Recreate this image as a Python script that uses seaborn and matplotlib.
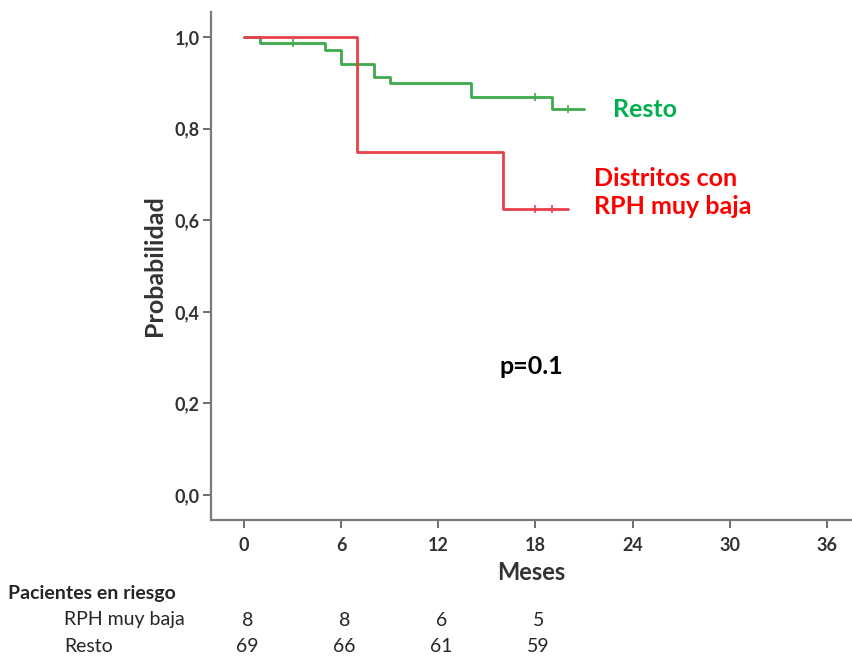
import matplotlib
matplotlib.use("Agg")
import matplotlib.pyplot as plt
import seaborn as sns
import pandas as pd
import numpy as np

# ---- data ----
resto_times = [0, 1, 5, 6, 8, 9, 14, 19, 21]
resto_surv = [1.0, 0.986, 0.971, 0.942, 0.913, 0.899, 0.870, 0.842, 0.842]
resto_cens_t = [3, 18, 20]
resto_cens_s = [0.986, 0.870, 0.842]

rph_times = [0, 7, 16, 20]
rph_surv = [1.0, 0.75, 0.625, 0.625]
rph_cens_t = [18, 19]
rph_cens_s = [0.625, 0.625]

x_ticks = [0, 6, 12, 18, 24, 30, 36]
y_ticks = [0.0, 0.2, 0.4, 0.6, 0.8, 1.0]
y_tick_labels = ["0,0", "0,2", "0,4", "0,6", "0,8", "1,0"]

risk_times = [0, 6, 12, 18]
risk_rph = [8, 8, 6, 5]
risk_resto = [69, 66, 61, 59]

GREEN_LINE = "#3DAA4C"
RED_LINE = "#E8404A"
GREEN_TXT = "#00B050"
RED_TXT = "#FF0000"

sns.set_theme(style="white")
plt.rcParams["font.family"] = ["Lato", "DejaVu Sans"]

fig = plt.figure(figsize=(8.52, 6.59), dpi=100)
ax = fig.add_axes([211/852, 139/659, 1 - 211/852, (520-12)/659])

df_resto = pd.DataFrame({"t": resto_times, "s": resto_surv})
df_rph = pd.DataFrame({"t": rph_times, "s": rph_surv})

sns.lineplot(data=df_resto, x="t", y="s", drawstyle="steps-post", color=GREEN_LINE,
             linewidth=2, ax=ax, estimator=None, sort=False)
sns.lineplot(data=df_rph, x="t", y="s", drawstyle="steps-post", color=RED_LINE,
             linewidth=2, ax=ax, estimator=None, sort=False)
sns.scatterplot(x=resto_cens_t, y=resto_cens_s, marker="|", s=40, color=GREEN_LINE,
                linewidth=1.2, ax=ax)
sns.scatterplot(x=rph_cens_t, y=rph_cens_s, marker="|", s=40, color=RED_LINE,
                linewidth=1.2, ax=ax)

ax.set_xlim(-2.04, 37.55)
ax.set_ylim(-0.0546, 1.0546)
for sp in ["top", "right"]:
    ax.spines[sp].set_visible(False)
for sp in ["left", "bottom"]:
    ax.spines[sp].set_color("#7a7a7a")
    ax.spines[sp].set_linewidth(1.6)

ann = ["Lato", "DejaVu Sans"]
tick_font = dict(family=ann, weight="bold", size=13)
ax.set_xticks(x_ticks)
ax.set_xticklabels([str(v) for v in x_ticks], fontdict=tick_font, color="#333333")
ax.set_yticks(y_ticks)
ax.set_yticklabels(y_tick_labels, fontdict=tick_font, color="#333333")
ax.tick_params(axis="both", direction="out", length=6, width=1.2, color="#555555",
               bottom=True, left=True, pad=2)
ax.tick_params(axis="x", pad=6)

ax.set_xlabel("Meses", fontdict=dict(family=ann, weight="bold", size=17),
              color="#333333", labelpad=5)
ax.set_ylabel("Probabilidad", fontdict=dict(family=ann, weight="bold", size=18),
              color="#333333", labelpad=6)

ax.text(22.8, 0.842, "Resto", color=GREEN_TXT, fontsize=18, fontweight="bold",
        family=ann, va="center", ha="left")
ax.text(21.6, 0.66, "Distritos con\nRPH muy baja", color=RED_TXT, fontsize=18,
        fontweight="bold", family=ann, va="center", ha="left", linespacing=1.25)
ax.text(15.75, 0.28, "p=0.1", color="black", fontsize=18, fontweight="bold",
        family=ann, va="center", ha="left")

# risk table
fig.text(8/852, 1 - 593/659, "Pacientes en riesgo", fontsize=14, fontweight="bold",
         family=ann, va="center", ha="left")
fig.text(64/852, 1 - 620/659, "RPH muy baja", fontsize=14, family=ann,
         va="center", ha="left")
fig.text(64/852, 1 - 646/659, "Resto", fontsize=14, family=ann,
         va="center", ha="left")
for t, a, b in zip(risk_times, risk_rph, risk_resto):
    xf = ax.transData.transform((t + 0.2, 0))[0] / fig.bbox.width
    fig.text(xf, 1 - 620/659, str(a), fontsize=14, family=ann, va="center", ha="center")
    fig.text(xf, 1 - 646/659, str(b), fontsize=14, family=ann, va="center", ha="center")

fig.savefig("out.png", dpi=100)
